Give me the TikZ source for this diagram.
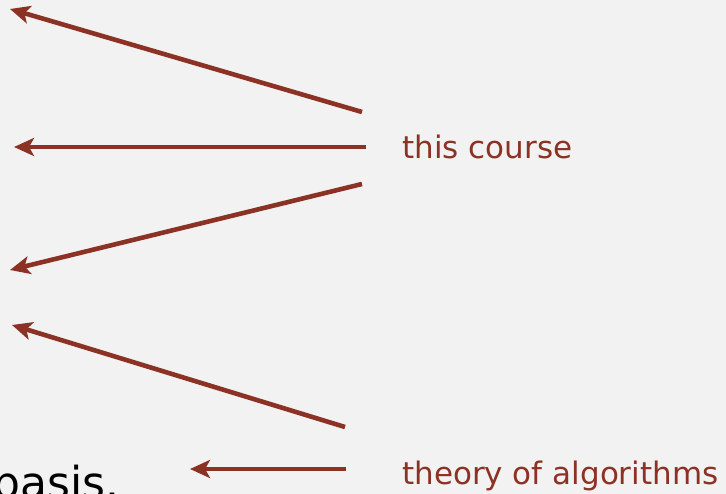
\documentclass[tikz,border=0pt]{standalone}
\usepackage{fontspec}
\setmainfont{DejaVu Sans}
\usetikzlibrary{arrows.meta}
\definecolor{bgray}{HTML}{F2F2F2}
\definecolor{brick}{HTML}{8C3225}

\begin{document}
\begin{tikzpicture}[x=1pt,y=-1pt,>={Stealth[length=20pt,width=18pt,inset=5pt]}]
      \tikzset{lbl/.style={anchor=base west,inner sep=0pt,text=brick,font=\fontsize{31}{34}\selectfont},
        arr/.style={->,line width=4.6pt,draw=brick}}
      \fill[bgray] (0,0) rectangle (726,494);\useasboundingbox (0,0) rectangle (726,494);
      \node[lbl] (course) at (402,159) {this course};\node[lbl] (theory) at (402,484) {theory of algorithms};
      \node[anchor=base west,inner sep=0pt,font=\fontsize{44}{46}\selectfont] (basis) at (-8,498) {basis.};
      \coordinate (s1) at (362,112);\coordinate (t1) at (10,9);
      \coordinate (s2) at (366,147);\coordinate (t2) at (14,147);
      \coordinate (s3) at (362,184);\coordinate (t3) at (10,270);
      \coordinate (s4) at (345,427);\coordinate (t4) at (12,325);
      \coordinate (s5) at (346,469);\coordinate (t5) at (190,469);
      \foreach \a/\b in {s1/t1,s2/t2,s3/t3,s4/t4,s5/t5}{\draw[arr] (\a)--(\b);}
    \end{tikzpicture}
\end{document}
